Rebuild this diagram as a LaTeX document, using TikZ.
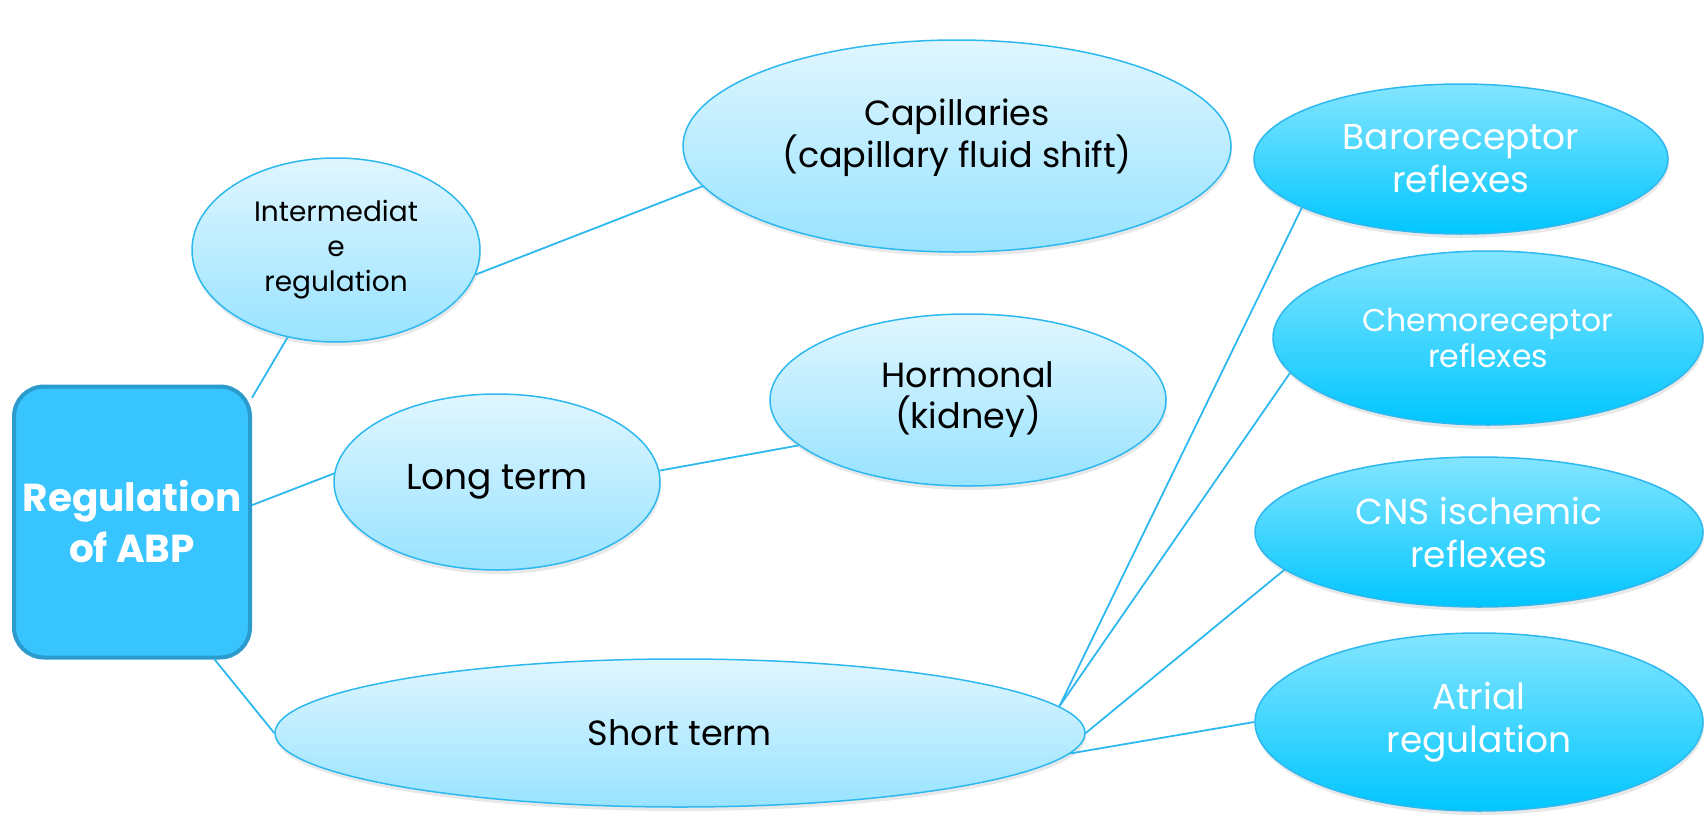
\documentclass[tikz,border=0pt]{standalone}
\usepackage{fontspec}
\setmainfont{Poppins}
\usepackage{tikz}
\usetikzlibrary{shapes.geometric,shadows}
\definecolor{edge}{HTML}{2DB8F0}
\definecolor{boxfill}{HTML}{38C4FF}
\definecolor{boxline}{HTML}{2A9BCC}
\definecolor{paletop}{HTML}{E0F6FF}
\definecolor{palebot}{HTML}{98E3FF}
\definecolor{deeptop}{HTML}{84E5FF}
\definecolor{deepbot}{HTML}{00C6FF}
\tikzset{
  hub/.style={draw=boxline, fill=boxfill, line width=4pt, rounded corners=30pt, inner sep=0pt,
    minimum width=236pt, minimum height=271pt, text=white, align=center,
    font=\bfseries\fontsize{39}{51}\selectfont},
  bubble/.style={ellipse, draw=edge, line width=1.5pt, inner sep=0pt, align=center,
    drop shadow={shadow xshift=1pt, shadow yshift=-4pt, opacity=0.18}},
  pale/.style={bubble, top color=paletop, bottom color=palebot, text=black},
  deep/.style={bubble, top color=deeptop, bottom color=deepbot, text=white},
  link/.style={draw=edge, line width=1.8pt},
}

\begin{document}
\begin{tikzpicture}[x=1pt, y=-1pt]
  \useasboundingbox (0,0) rectangle (1705,814);
  % root
  \node[hub] (reg) at (132,522) {Regulation\\of ABP};
  % middle column
  \node[pale, minimum width=288pt, minimum height=184pt, font=\fontsize{28}{35}\selectfont]
    (inter) at (336,250) {Intermediat\\e\\regulation};
  \node[pale, minimum width=548pt, minimum height=212pt, text depth=26pt, font=\fontsize{35}{42}\selectfont]
    (capil) at (957,146) {Capillaries\\(capillary fluid shift)};
  \node[pale, minimum width=326pt, minimum height=176pt, font=\fontsize{36}{43}\selectfont]
    (longt) at (497,482) {Long term};
  \node[pale, minimum width=396pt, minimum height=172pt, font=\fontsize{35}{41}\selectfont]
    (hormon) at (968,400) {Hormonal\\(kidney)};
  \node[pale, minimum width=810pt, minimum height=148pt, font=\fontsize{35}{42}\selectfont]
    (shortt) at (680,733) {Short term};
  % reflexes
  \node[deep, minimum width=414pt, minimum height=150pt, font=\fontsize{36}{43}\selectfont]
    (baro) at (1461,159) {Baroreceptor\\reflexes};
  \node[deep, minimum width=430pt, minimum height=174pt, font=\fontsize{31.5}{36}\selectfont]
    (chemo) at (1488,338) {Chemoreceptor\\reflexes};
  \node[deep, minimum width=448pt, minimum height=150pt, font=\fontsize{36}{43}\selectfont]
    (cns) at (1479,532) {CNS ischemic\\reflexes};
  \node[deep, minimum width=448pt, minimum height=178pt, font=\fontsize{36}{43}\selectfont]
    (atrial) at (1479,722) {Atrial\\regulation};
  % connectors
  \draw[link] (reg.46) -- (inter.241);
  \draw[link] (reg.8) -- (longt.177);
  \draw[link] (reg.301) -- (shortt.180);
  \draw[link] (inter.350) -- (capil.189);
  \draw[link] (longt.4) -- (hormon.195);
  \draw[link] (shortt.4) -- (baro.197);
  \draw[link] (shortt.4) -- (chemo.190);
  \draw[link] (shortt.east) -- (cns.191);
  \draw[link] (shortt.357) -- (atrial.180);
\end{tikzpicture}
\end{document}
